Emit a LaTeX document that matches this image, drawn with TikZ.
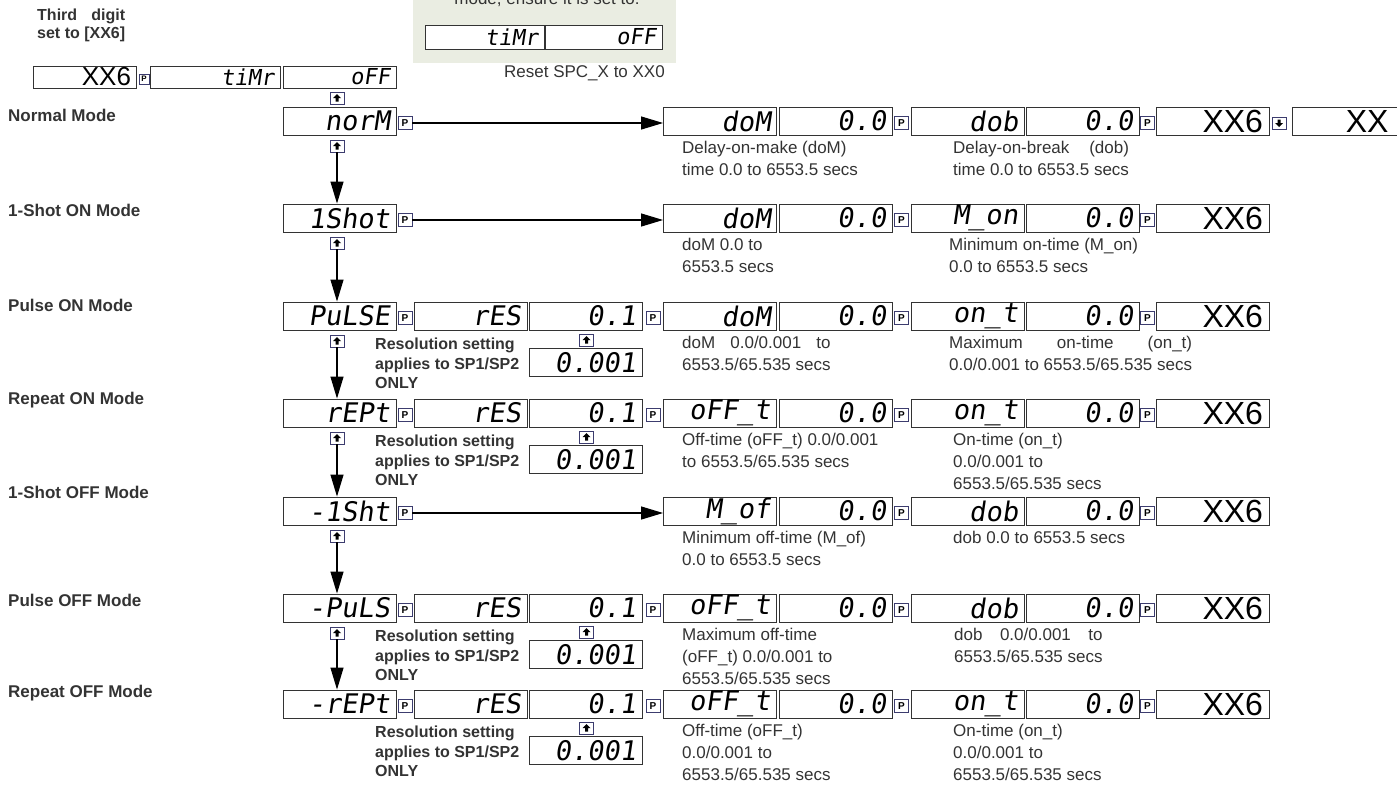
\documentclass[tikz,border=0pt]{standalone}
\usepackage{fontspec}
\setmainfont{Liberation Sans}
\newfontfamily\segfont[FakeSlant=0.15]{DejaVu Sans Mono}
\usetikzlibrary{arrows.meta}
\definecolor{ink}{gray}{0.2}
\definecolor{keyblue}{RGB}{60,60,110}
\definecolor{notegreen}{RGB}{234,237,226}
\newcommand{\spreadline}[2]{\setbox0\hbox{#2}\hbox to \wd0{#1}}

\begin{document}
\begin{tikzpicture}[x=1pt, y=-1pt,
    every node/.style={inner sep=0pt},
    lcd/.style={rectangle, draw=black!80, line width=0.9pt, fill=white,
                minimum width=113pt, minimum height=28pt, text width=101pt,
                align=right, font=\segfont\fontsize{27}{27}\selectfont},
    lcdbig/.style={lcd, font=\fontsize{32}{32}\selectfont},
    lcdsmall/.style={lcd, minimum height=22pt, font=\segfont\fontsize{22}{22}\selectfont},
    key/.style={rectangle, draw=keyblue, line width=0.9pt, fill=white,
                minimum width=14pt, minimum height=13pt},
    pkey/.style={key, font=\bfseries\fontsize{10}{10}\selectfont},
    upkey/.style={key, minimum height=12pt, path picture={
        \fill[black] (path picture bounding box.center) ++(0pt,4pt) -- ++(-4pt,-4pt)
          -- ++(2.5pt,0pt) -- ++(0pt,-3.5pt) -- ++(3pt,0pt) -- ++(0pt,3.5pt)
          -- ++(2.5pt,0pt) -- cycle;}},
    dnkey/.style={key, minimum height=12pt, path picture={
        \fill[black] (path picture bounding box.center) ++(0pt,-4pt) -- ++(-4pt,4pt)
          -- ++(2.5pt,0pt) -- ++(0pt,3.5pt) -- ++(3pt,0pt) -- ++(0pt,-3.5pt)
          -- ++(2.5pt,0pt) -- cycle;}},
    arr/.style={line width=1.2pt, -{Triangle[length=22pt,width=13pt]}},
    mode/.style={anchor=west, text=ink, font=\bfseries\fontsize{17}{20}\selectfont},
    note/.style={anchor=north west, align=left, text=ink, font=\fontsize{17}{22}\selectfont},
    res/.style={anchor=north west, align=left, text=ink, font=\bfseries\fontsize{16}{19.5}\selectfont},
  ]
  \useasboundingbox (0,0) rectangle (1397,788);
  \clip (0,0) rectangle (1397,788);

  % header and the timer note
  \node[res, font=\bfseries\fontsize{16}{17.5}\selectfont] (hdr) at (37,9)
    {\spreadline{Third\hfill digit}{set to [XX6]}\\set to [XX6]};
  \node[fill=notegreen, minimum width=263pt, minimum height=70pt] (panel) at (544.5,28) {};
  \node[note, anchor=base] (panelTxt) at (547,4) {mode, ensure it is set to:};
  \node[lcdsmall, minimum width=119pt, text width=107pt, minimum height=24pt] (tmrNote) at (484.5,37) {tiMr};
  \node[lcdsmall, minimum width=117pt, text width=105pt, minimum height=24pt] (offNote) at (603.5,37) {oFF};
  \node[note, anchor=east] (reset) at (665,73) {Reset SPC\_X to XX0};

  % third digit row
  \node[lcdsmall, minimum width=103pt, text width=93pt, font=\fontsize{26}{26}\selectfont] (xxTop) at (84.5,77) {XX6};
  \node[pkey, minimum width=10pt, minimum height=10pt, font=\bfseries\fontsize{8}{8}\selectfont] (pTop) at (144,79) {P};
  \node[lcdsmall, minimum width=130pt, text width=118pt] (tmrTop) at (215,77) {tiMr};
  \node[lcdsmall] (offTop) at (339.5,77) {oFF};
  \node[upkey] (upTop) at (337,98) {};

  % mode names
  \node[mode] (lNor) at (8,115) {Normal Mode};
  \node[mode] (lOne) at (8,210) {1-Shot ON Mode};
  \node[mode] (lPul) at (8,305) {Pulse ON Mode};
  \node[mode] (lRep) at (8,400) {Repeat ON Mode};
  \node[mode] (lOneOff) at (8,492) {1-Shot OFF Mode};
  \node[mode] (lPulOff) at (8,600) {Pulse OFF Mode};
  \node[mode] (lRepOff) at (8,693) {Repeat OFF Mode};

  % normal mode
  \node[lcd] (mNor) at (339.5,121) {norM};
  \node[pkey] (pNor) at (405,123) {P};
  \node[upkey] (upNor) at (337,146) {};
  \node[lcd] (dNor) at (720,121) {doM};
  \node[lcd] (eNor) at (835.5,121) {0.0};
  \node[pkey] (peNor) at (901.5,123) {P};
  \node[lcd] (fNor) at (967.5,121) {dob};
  \node[lcd] (gNor) at (1082.5,121) {0.0};
  \node[pkey] (pgNor) at (1147.5,123) {P};
  \node[lcdbig] (hNor) at (1212.5,121) {XX6};
  \node[dnkey] (dkNor) at (1279,123) {};
  \node[lcdbig, anchor=west, minimum width=140pt, text width=52pt] (iNor) at (1292,121) {XX};
  \node[note] (tdNor) at (682,141) {Delay-on-make (doM)\\time 0.0 to 6553.5 secs};
  \node[note] (tfNor) at (953,141)
    {\spreadline{Delay-on-break\hfill(dob)}{time 0.0 to 6553.5 secs}\\time 0.0 to 6553.5 secs};

  % 1-shot on
  \node[lcd] (mOne) at (339.5,218) {1Shot};
  \node[pkey] (pOne) at (405,220) {P};
  \node[upkey] (upOne) at (337,243) {};
  \node[lcd] (dOne) at (720,218) {doM};
  \node[lcd] (eOne) at (835.5,218) {0.0};
  \node[pkey] (peOne) at (901.5,220) {P};
  \node[lcd] (fOne) at (967.5,218) {M\_on};
  \node[lcd] (gOne) at (1082.5,218) {0.0};
  \node[pkey] (pgOne) at (1147.5,220) {P};
  \node[lcdbig] (hOne) at (1212.5,218) {XX6};
  \node[note] (tdOne) at (682,238) {doM 0.0 to\\6553.5 secs};
  \node[note] (tfOne) at (949,238) {Minimum on-time (M\_on)\\0.0 to 6553.5 secs};

  % pulse on
  \node[lcd] (mPul) at (339.5,316) {PuLSE};
  \node[pkey] (pPul) at (405,318) {P};
  \node[upkey] (upPul) at (337,341) {};
  \node[lcd] (bPul) at (470.5,316) {rES};
  \node[lcd] (cPul) at (585.5,316) {0.1};
  \node[pkey] (pcPul) at (653,318) {P};
  \node[upkey] (ucPul) at (586.5,340) {};
  \node[lcd] (c2Pul) at (585.5,362.5) {0.001};
  \node[res] (rsPul) at (375,338) {Resolution setting\\applies to SP1/SP2\\ONLY};
  \node[lcd] (dPul) at (720,316) {doM};
  \node[lcd] (ePul) at (835.5,316) {0.0};
  \node[pkey] (pePul) at (901.5,318) {P};
  \node[lcd] (fPul) at (967.5,316) {on\_t};
  \node[lcd] (gPul) at (1082.5,316) {0.0};
  \node[pkey] (pgPul) at (1147.5,318) {P};
  \node[lcdbig] (hPul) at (1212.5,316) {XX6};
  \node[note] (tdPul) at (682,336)
    {\spreadline{doM\hfill 0.0/0.001\hfill to}{6553.5/65.535 secs}\\6553.5/65.535 secs};
  \node[note] (tfPul) at (949,336)
    {\spreadline{Maximum\hfill on-time\hfill (on\_t)}{0.0/0.001 to 6553.5/65.535 secs}\\0.0/0.001 to 6553.5/65.535 secs};

  % repeat on
  \node[lcd] (mRep) at (339.5,413) {rEPt};
  \node[pkey] (pRep) at (405,415) {P};
  \node[upkey] (upRep) at (337,438) {};
  \node[lcd] (bRep) at (470.5,413) {rES};
  \node[lcd] (cRep) at (585.5,413) {0.1};
  \node[pkey] (pcRep) at (653,415) {P};
  \node[upkey] (ucRep) at (586.5,437) {};
  \node[lcd] (c2Rep) at (585.5,459.5) {0.001};
  \node[res] (rsRep) at (375,435) {Resolution setting\\applies to SP1/SP2\\ONLY};
  \node[lcd] (dRep) at (720,413) {oFF\_t};
  \node[lcd] (eRep) at (835.5,413) {0.0};
  \node[pkey] (peRep) at (901.5,415) {P};
  \node[lcd] (fRep) at (967.5,413) {on\_t};
  \node[lcd] (gRep) at (1082.5,413) {0.0};
  \node[pkey] (pgRep) at (1147.5,415) {P};
  \node[lcdbig] (hRep) at (1212.5,413) {XX6};
  \node[note] (tdRep) at (682,433) {Off-time (oFF\_t) 0.0/0.001\\to 6553.5/65.535 secs};
  \node[note] (tfRep) at (953,433) {On-time (on\_t)\\0.0/0.001 to\\6553.5/65.535 secs};

  % 1-shot off
  \node[lcd] (mOneOff) at (339.5,511) {-1Sht};
  \node[pkey] (pOneOff) at (405,513) {P};
  \node[upkey] (upOneOff) at (337,536) {};
  \node[lcd] (dOneOff) at (720,511) {M\_of};
  \node[lcd] (eOneOff) at (835.5,511) {0.0};
  \node[pkey] (peOneOff) at (901.5,513) {P};
  \node[lcd] (fOneOff) at (967.5,511) {dob};
  \node[lcd] (gOneOff) at (1082.5,511) {0.0};
  \node[pkey] (pgOneOff) at (1147.5,513) {P};
  \node[lcdbig] (hOneOff) at (1212.5,511) {XX6};
  \node[note] (tdOneOff) at (682,531) {Minimum off-time (M\_of)\\0.0 to 6553.5 secs};
  \node[note] (tfOneOff) at (953,531) {dob 0.0 to 6553.5 secs};

  % pulse off
  \node[lcd] (mPulOff) at (339.5,608) {-PuLS};
  \node[pkey] (pPulOff) at (405,610) {P};
  \node[upkey] (upPulOff) at (337,633) {};
  \node[lcd] (bPulOff) at (470.5,608) {rES};
  \node[lcd] (cPulOff) at (585.5,608) {0.1};
  \node[pkey] (pcPulOff) at (653,610) {P};
  \node[upkey] (ucPulOff) at (586.5,632) {};
  \node[lcd] (c2PulOff) at (585.5,654.5) {0.001};
  \node[res] (rsPulOff) at (375,630) {Resolution setting\\applies to SP1/SP2\\ONLY};
  \node[lcd] (dPulOff) at (720,608) {oFF\_t};
  \node[lcd] (ePulOff) at (835.5,608) {0.0};
  \node[pkey] (pePulOff) at (901.5,610) {P};
  \node[lcd] (fPulOff) at (967.5,608) {dob};
  \node[lcd] (gPulOff) at (1082.5,608) {0.0};
  \node[pkey] (pgPulOff) at (1147.5,610) {P};
  \node[lcdbig] (hPulOff) at (1212.5,608) {XX6};
  \node[note] (tdPulOff) at (682,628) {Maximum off-time\\(oFF\_t) 0.0/0.001 to\\6553.5/65.535 secs};
  \node[note] (tfPulOff) at (954,628)
    {\spreadline{dob\hfill 0.0/0.001\hfill to}{6553.5/65.535 secs}\\6553.5/65.535 secs};

  % repeat off
  \node[lcd] (mRepOff) at (339.5,704) {-rEPt};
  \node[pkey] (pRepOff) at (405,706) {P};
  \node[lcd] (bRepOff) at (470.5,704) {rES};
  \node[lcd] (cRepOff) at (585.5,704) {0.1};
  \node[pkey] (pcRepOff) at (653,706) {P};
  \node[upkey] (ucRepOff) at (586.5,728) {};
  \node[lcd] (c2RepOff) at (585.5,750.5) {0.001};
  \node[res] (rsRepOff) at (375,726) {Resolution setting\\applies to SP1/SP2\\ONLY};
  \node[lcd] (dRepOff) at (720,704) {oFF\_t};
  \node[lcd] (eRepOff) at (835.5,704) {0.0};
  \node[pkey] (peRepOff) at (901.5,706) {P};
  \node[lcd] (fRepOff) at (967.5,704) {on\_t};
  \node[lcd] (gRepOff) at (1082.5,704) {0.0};
  \node[pkey] (pgRepOff) at (1147.5,706) {P};
  \node[lcdbig] (hRepOff) at (1212.5,704) {XX6};
  \node[note] (tdRepOff) at (682,724) {Off-time (oFF\_t)\\0.0/0.001 to\\6553.5/65.535 secs};
  \node[note] (tfRepOff) at (953,724) {On-time (on\_t)\\0.0/0.001 to\\6553.5/65.535 secs};

  % arrows
  \draw[arr] (pNor.east) -- (pNor.east -| dNor.west);
  \draw[arr] (pOne.east) -- (pOne.east -| dOne.west);
  \draw[arr] (pOneOff.east) -- (pOneOff.east -| dOneOff.west);
  \draw[arr] (upNor.south) -- (upNor.south |- mOne.north);
  \draw[arr] (upOne.south) -- (upOne.south |- mPul.north);
  \draw[arr] (upPul.south) -- (upPul.south |- mRep.north);
  \draw[arr] (upRep.south) -- (upRep.south |- mOneOff.north);
  \draw[arr] (upOneOff.south) -- (upOneOff.south |- mPulOff.north);
  \draw[arr] (upPulOff.south) -- (upPulOff.south |- mRepOff.north);
\end{tikzpicture}
\end{document}
